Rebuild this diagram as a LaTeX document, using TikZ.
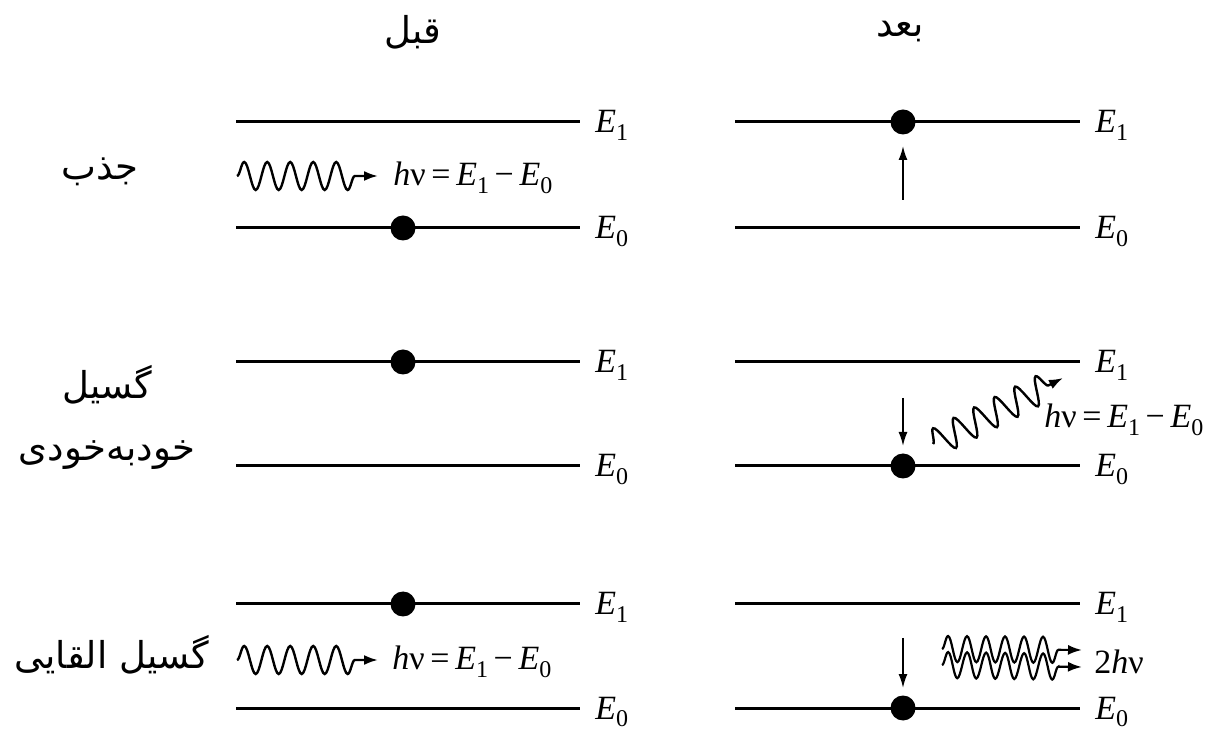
\documentclass[tikz,border=0pt]{standalone}
\usepackage{fontspec}
\TeXXeTstate=1
\setmainfont{Liberation Serif}
\newfontfamily\arabicfont[Script=Arabic]{DejaVu Sans}
\usetikzlibrary{decorations.pathmorphing,arrows.meta}
\newcommand\En[1]{\textit{E}\raisebox{-0.22em}{\fontsize{12}{14}\selectfont #1}}
\newcommand\hnuEq{\textit{h}ν\,=\,\En{1}\,−\,\En{0}}
\begin{document}
\begin{tikzpicture}[x=0.5pt,y=-0.5pt,
  level/.style={line width=1.5pt},
  elab/.style={anchor=base west,inner sep=0pt,font=\rmfamily\fontsize{17}{20}\selectfont},
  eq/.style={anchor=west,inner sep=0pt,font=\rmfamily\fontsize{17}{20}\selectfont},
  fa/.style={inner sep=0pt,font=\arabicfont\fontsize{18.5}{24}\selectfont},
  electron/.style={circle,fill=black,draw=none,minimum size=12.5pt,inner sep=0pt},
  wave/.style={line width=1.2pt,decorate,decoration={snake,amplitude=7pt,segment length=11.5pt,post length=6pt},-{Latex[length=7pt,width=5pt]}},
  dwave/.style={wave,line width=1.1pt,decoration={amplitude=6.5pt,segment length=9.5pt,post length=10pt}},
  trans/.style={line width=0.9pt,-{Latex[length=7pt,width=4.5pt]}}]
\useasboundingbox (0,0) rectangle (1210,731);

% headers
\node[fa] (before) at (413,32) {\beginR قبل\endR};
\node[fa] (after) at (900,32) {\beginR بعد\endR};

% row labels
\node[fa] (abs) at (100,172) {\beginR جذب\endR};
\node[fa] (spon1) at (107,385) {\beginR گسیل\endR};
\node[fa] (spon2) at (107,455) {\beginR خودبه^^^^200cخودی\endR};
\node[fa] (stim) at (112,655) {\beginR گسیل القایی\endR};

% levels
\foreach \r/\yu/\yl in {1/122/228, 2/362/466, 3/604/708} {
  \coordinate (L\r u0) at (236,\yu); \coordinate (L\r u1) at (580,\yu);
  \coordinate (L\r l0) at (236,\yl); \coordinate (L\r l1) at (580,\yl);
  \coordinate (R\r u0) at (735,\yu); \coordinate (R\r u1) at (1080,\yu);
  \coordinate (R\r l0) at (735,\yl); \coordinate (R\r l1) at (1080,\yl);
  \draw[level] (L\r u0) -- (L\r u1); \draw[level] (L\r l0) -- (L\r l1);
  \draw[level] (R\r u0) -- (R\r u1); \draw[level] (R\r l0) -- (R\r l1);
  \node[elab] (LE\r u) at ([xshift=7.5pt,yshift=-5.5pt]L\r u1) {\En{1}};
  \node[elab] (LE\r l) at ([xshift=7.5pt,yshift=-5.5pt]L\r l1) {\En{0}};
  \node[elab] (RE\r u) at ([xshift=7.5pt,yshift=-5.5pt]R\r u1) {\En{1}};
  \node[elab] (RE\r l) at ([xshift=7.5pt,yshift=-5.5pt]R\r l1) {\En{0}};
}

% electrons
\node[electron] (e1L) at (403,228) {};
\node[electron] (e1R) at (903,122) {};
\node[electron] (e2L) at (403,362) {};
\node[electron] (e2R) at (903,466) {};
\node[electron] (e3L) at (403,604) {};
\node[electron] (e3R) at (903,708) {};

% row 1: absorption
\coordinate (w1s) at (237,176); \coordinate (w1e) at (378,176);
\draw[wave] (w1s) -- (w1e);
\node[eq] (eq1) at (393,178) {\hnuEq};
\coordinate (t1s) at (903,200); \coordinate (t1e) at (903,146);
\draw[trans] (t1s) -- (t1e);

% row 2: spontaneous emission
\coordinate (t2s) at (903,398); \coordinate (t2e) at (903,446);
\draw[trans] (t2s) -- (t2e);
\coordinate (w2s) at (933,444); \coordinate (w2e) at (1063,378);
\draw[wave] (w2s) -- (w2e);
\node[eq] (eq2) at (1044,420) {\hnuEq};

% row 3: stimulated emission
\coordinate (w3s) at (237,660); \coordinate (w3e) at (378,660);
\draw[wave] (w3s) -- (w3e);
\node[eq] (eq3) at (392,662) {\hnuEq};
\coordinate (t3s) at (903,638); \coordinate (t3e) at (903,688);
\draw[trans] (t3s) -- (t3e);
\coordinate (w4s) at (942,649); \coordinate (w4e) at (1082,650);
\coordinate (w5s) at (942,665); \coordinate (w5e) at (1082,667);
\draw[dwave] (w4s) -- (w4e);
\draw[dwave] (w5s) -- (w5e);
\node[eq] (eq4) at (1094,662) {2\textit{h}ν};
\end{tikzpicture}
\end{document}
